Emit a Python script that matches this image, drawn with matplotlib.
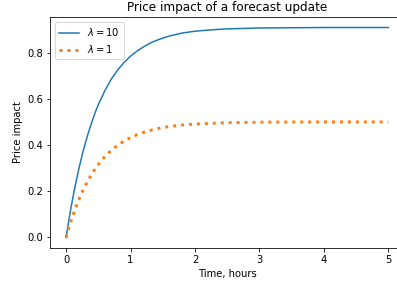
import matplotlib
matplotlib.use("Agg")
import matplotlib.pyplot as plt

# Time grid (hours) and price impact values
t = [0, 0.025, 0.05, 0.075, 0.1, 0.125, 0.15, 0.175, 0.2, 0.25, 0.3, 0.35,
     0.4, 0.45, 0.5, 0.6, 0.7, 0.8, 0.9, 1.0, 1.1, 1.2, 1.3, 1.4, 1.5,
     1.6, 1.8, 2.0, 2.25, 2.5, 3.0, 3.5, 4.0, 5.0]
impact_lam10 = [0, 0.044, 0.087, 0.127, 0.165, 0.201, 0.235, 0.268, 0.30,
                0.358, 0.41, 0.457, 0.50, 0.54, 0.575, 0.635, 0.685, 0.725,
                0.758, 0.785, 0.807, 0.825, 0.841, 0.853, 0.863, 0.872,
                0.885, 0.893, 0.899, 0.903, 0.907, 0.908, 0.909, 0.909]
impact_lam1 = [0, 0.024, 0.048, 0.07, 0.09, 0.111, 0.13, 0.148, 0.165,
               0.197, 0.225, 0.251, 0.275, 0.297, 0.316, 0.35, 0.377, 0.399,
               0.417, 0.432, 0.445, 0.455, 0.463, 0.47, 0.476, 0.48, 0.487,
               0.491, 0.494, 0.497, 0.499, 0.5, 0.5, 0.5]

fig = plt.figure(figsize=(397 / 72, 284 / 72), dpi=72)
ax = fig.add_axes([0.1259, 0.1268, 0.8927, 0.8133])

ax.plot(t, impact_lam10, label=r'$\lambda = 10$')
ax.plot(t, impact_lam1, linestyle=':', linewidth=3, label=r'$\lambda = 1$')

ax.set_title('Price impact of a forecast update')
ax.set_xlabel('Time, hours')
ax.set_ylabel('Price impact')
ax.legend(loc='upper left')

fig.savefig('out.png', dpi=72)
